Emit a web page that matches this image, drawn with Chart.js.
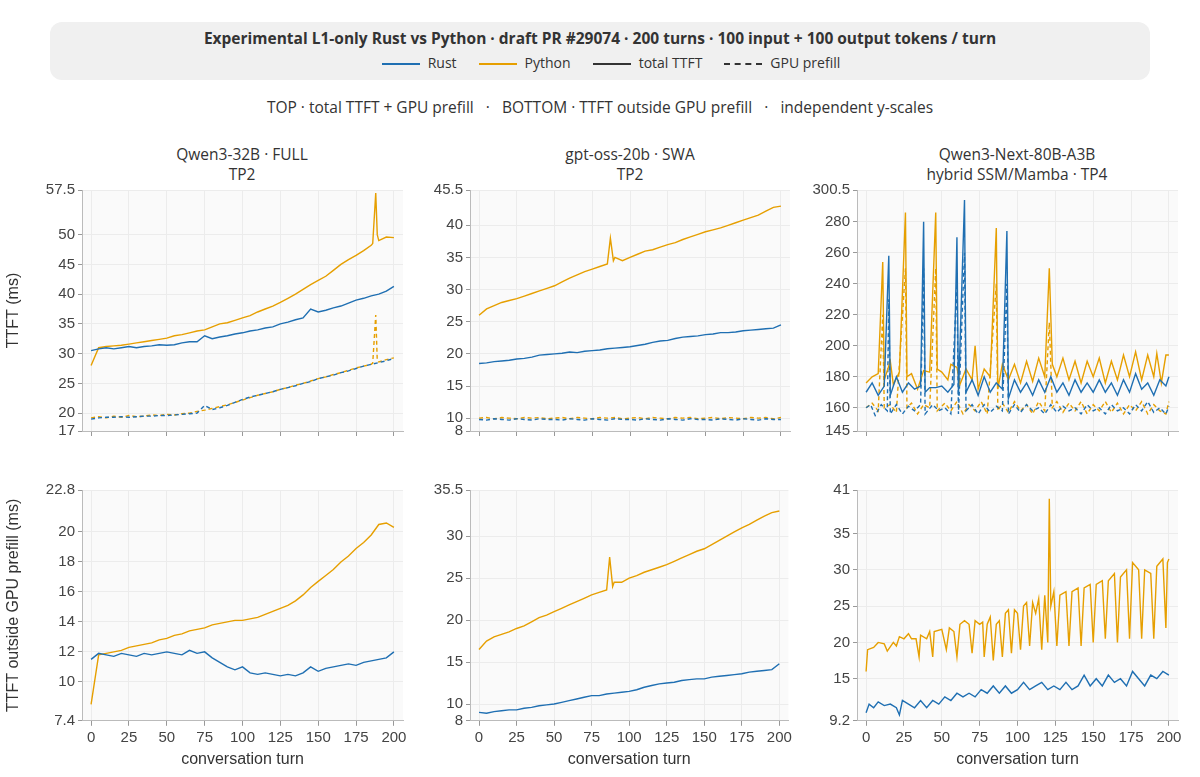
<!DOCTYPE html>
<html><head><meta charset="utf-8">
<script src="https://cdn.jsdelivr.net/npm/chart.js@4/dist/chart.umd.min.js"></script>
<style>
body{margin:0;width:1200px;height:777px;background:#fff;font-family:"Open Sans","DejaVu Sans",sans-serif;position:relative;overflow:hidden;color:#333}
#head{position:absolute;left:50px;top:22px;width:1100px;height:58px;background:#f0f0f0;border-radius:12px;text-align:center}
#head .t{font-weight:bold;font-size:15.5px;margin-top:5px}
#head .l{font-size:14px;margin-top:4px}
.sw{display:inline-block;width:38px;height:0;vertical-align:middle;margin:0 8px 0 22px}
#sub{position:absolute;top:96px;width:1200px;text-align:center;font-size:15.5px}
.pt{position:absolute;width:380px;text-align:center;font-size:15.5px;line-height:20px}
canvas{position:absolute}
</style></head><body>
<div id="head"><div class="t">Experimental L1-only Rust vs Python · draft PR #29074 · 200 turns · 100 input + 100 output tokens / turn</div>
<div class="l"><span class="sw" style="border-top:2px solid #1f6fb2"></span>Rust<span class="sw" style="border-top:2px solid #e69f00"></span>Python<span class="sw" style="border-top:2px solid #333"></span>total TTFT<span class="sw" style="border-top:2px dashed #333"></span>GPU prefill</div></div>
<div id="sub">TOP · total TTFT + GPU prefill &nbsp; · &nbsp; BOTTOM · TTFT outside GPU prefill &nbsp; · &nbsp; independent y-scales</div>
<div class="pt" style="left:52px;top:144px">Qwen3-32B · FULL<br>TP2</div>
<div class="pt" style="left:440px;top:144px">gpt-oss-20b · SWA<br>TP2</div>
<div class="pt" style="left:827px;top:144px">Qwen3-Next-80B-A3B<br>hybrid SSM/Mamba · TP4</div>
<canvas id="c1" style="left:0;top:178px" width="410" height="265"></canvas>
<canvas id="c2" style="left:410px;top:178px" width="385" height="265"></canvas>
<canvas id="c3" style="left:795px;top:178px" width="390" height="265"></canvas>
<canvas id="c4" style="left:0;top:478px" width="410" height="295"></canvas>
<canvas id="c5" style="left:410px;top:478px" width="385" height="295"></canvas>
<canvas id="c6" style="left:795px;top:478px" width="390" height="295"></canvas>
<script>
const RUST = "#1f6fb2"
const PY = "#e69f00"

const turns = [0,5,10,15,20,25,30,35,40,45,50,55,60,65,70,75,80,85,90,95,100,105,110,115,120,125,130,135,140,145,150,155,160,165,170,175,180,185,190,195,200]

// Qwen3-32B
const q32RustTotal = [30.5,30.8,31,30.8,31,31.2,31,31.2,31.3,31.5,31.4,31.5,31.8,32,32,33,32.5,32.8,33,33.3,33.5,33.8,34,34.3,34.5,35,35.3,35.7,36,37.5,37,37.3,37.7,38,38.5,39,39.3,39.7,40,40.5,41.3]
const q32PyTotal = [28,31,31.2,31.3,31.4,31.6,31.8,32,32.2,32.4,32.6,33,33.2,33.5,33.8,34,34.5,35,35.2,35.6,36,36.4,37,37.5,38,38.6,39.3,40,40.8,41.6,42.3,43,44,45,45.8,46.5,47.3,48.2,49,49.6,49.5]
const q32RustPre = [19,19.2,19.3,19.3,19.4,19.3,19.4,19.5,19.5,19.6,19.6,19.7,19.8,19.9,20,21.3,20.6,20.9,21.3,21.8,22.3,22.7,23,23.3,23.6,24,24.3,24.6,25,25.3,25.8,26.1,26.4,26.8,27.1,27.5,27.9,28.2,28.5,28.8,29.2]
const q32PyPre = [19.2,19.4,19.2,19.5,19.3,19.6,19.4,19.5,19.7,19.6,19.8,19.7,19.9,20,20.3,20.5,20.8,21.1,21.4,21.8,22.2,22.6,23,23.3,23.6,24,24.3,24.7,25,25.4,25.8,26.1,26.5,26.8,27.2,27.6,27.9,28.2,28.6,29,29.3]
const q32RustOut = [11.5,11.9,11.8,11.7,11.9,11.8,11.7,11.9,11.8,11.9,12,11.9,11.8,12.1,11.9,12,11.6,11.3,11,10.8,11,10.6,10.5,10.6,10.5,10.4,10.5,10.4,10.6,11,10.7,10.9,11,11.1,11.2,11.1,11.3,11.4,11.5,11.6,12]
const q32PyOut = [8.5,11.8,11.9,12,12.1,12.3,12.4,12.5,12.6,12.8,12.9,13.1,13.2,13.4,13.5,13.6,13.8,13.9,14,14.1,14.1,14.2,14.3,14.5,14.7,14.9,15.1,15.4,15.8,16.3,16.7,17.1,17.5,18,18.4,18.9,19.3,19.8,20.5,20.6,20.3]
// gpt-oss-20b
const gptRustTotal = [18.5,18.6,18.8,18.9,19,19.2,19.3,19.5,19.8,19.9,20,20.1,20.3,20.2,20.4,20.5,20.6,20.8,20.9,21,21.1,21.3,21.5,21.8,22,22.1,22.4,22.6,22.7,22.8,23,23.1,23.3,23.3,23.4,23.6,23.7,23.8,23.9,24,24.5]
const gptPyTotal = [26,27,27.5,28,28.3,28.6,29,29.4,29.8,30.2,30.6,31.2,31.8,32.3,32.8,33.2,33.6,34,35,34.5,35,35.5,36,36.2,36.6,37,37.3,37.8,38.2,38.6,39,39.3,39.6,40,40.4,40.8,41.2,41.6,42.2,42.8,43]
const gptRustPre = [9.8,9.7,9.9,9.8,9.7,9.9,9.8,9.7,9.9,9.8,9.8,9.7,9.9,9.8,9.7,9.9,9.8,9.7,9.9,9.8,9.8,9.7,9.9,9.8,9.7,9.9,9.8,9.7,9.9,9.8,9.8,9.7,9.9,9.8,9.7,9.9,9.8,9.7,9.9,9.8,9.8]
const gptPyPre = [10,10.1,9.9,10.1,10,9.9,10.1,10,10.1,9.9,10,10.1,9.9,10.1,10,9.9,10.1,10,10.1,9.9,10,10.1,9.9,10.1,10,9.9,10.1,10,10.1,9.9,10,10.1,9.9,10.1,10,9.9,10.1,10,10.1,9.9,10.1]
const gptRustOut = [9,8.9,9.1,9.2,9.3,9.3,9.5,9.6,9.8,9.9,10,10.2,10.4,10.6,10.8,11,11,11.2,11.3,11.4,11.5,11.7,12,12.2,12.4,12.5,12.6,12.8,12.9,13,13,13.2,13.3,13.4,13.5,13.6,13.8,13.9,14,14.1,14.8]
const gptPyOut = [16.5,17.5,18,18.3,18.6,19,19.3,19.8,20.3,20.6,21,21.4,21.8,22.2,22.6,23,23.3,23.6,24.5,24.5,25,25.3,25.7,26,26.3,26.6,27,27.4,27.8,28.2,28.5,29,29.5,30,30.5,31,31.4,31.9,32.4,32.8,33]
const gptSpikeX = [85,87,89]
const gptPyTotalSpike = [34,38,34.5]
const gptPyOutSpike = [23.6,27.5,24]

// Qwen3-Next
const nxPyTotalX = [0,4,8,11,12,16,18,22,26,27,30,34,38,42,46,47,50,54,56,60,62,66,70,72,74,78,82,86,87,90,94,98,102,106,110,114,118,121,123,126,130,134,138,142,146,150,154,158,162,166,170,174,178,182,186,190,192,195,198,200]
const nxPyTotal = [176,180,182,254,178,190,175,183,286,180,182,172,184,183,286,185,183,178,188,186,175,185,178,200,172,185,180,276,172,188,178,188,176,190,177,192,180,250,188,180,192,178,190,176,190,180,192,176,190,178,194,180,196,178,194,180,195,176,194,194]
const nxRustTotalX = [0,4,8,12,15,16,20,24,28,32,36,38,39,42,46,50,54,58,60,61,65,66,70,74,78,82,86,90,93,94,98,102,106,110,114,118,122,126,130,134,138,142,146,150,154,158,162,166,170,174,178,182,186,190,194,198,200]
const nxRustTotal = [170,176,168,174,258,168,180,170,176,172,174,280,170,173,173,174,170,175,270,168,294,170,178,168,180,170,176,172,274,166,178,170,176,168,178,170,180,170,176,168,178,170,176,170,178,170,176,168,178,170,182,172,176,168,178,174,180]
const nxRustPreX = [0,3,6,10,14,15,16,20,24,28,32,36,38,39,44,48,52,56,60,61,65,66,70,74,78,82,86,90,93,94,98,102,106,110,114,118,122,126,130,134,138,142,146,150,154,158,162,166,170,174,178,182,186,190,194,198,200]
const nxRustPre = [160,162,155,162,158,230,156,162,156,161,158,162,250,156,162,158,160,156,240,156,260,158,162,156,162,157,161,158,240,156,162,157,162,158,160,156,162,157,161,158,160,156,162,158,160,156,162,158,160,156,162,158,164,157,160,156,161]
const nxPyPreX = [0,4,8,11,12,16,20,26,27,30,34,38,42,46,47,52,56,60,64,68,72,76,80,86,87,90,94,98,102,106,110,114,118,121,123,126,130,134,138,142,146,150,154,158,162,166,170,174,178,182,186,190,194,198,200]
const nxPyPre = [160,163,158,220,160,162,157,250,160,163,156,162,160,250,158,163,158,164,156,162,158,164,156,240,158,163,157,164,158,162,156,164,158,215,160,164,157,163,158,164,156,162,158,164,157,163,156,162,158,164,156,162,158,156,164]
const nxPyOutX = [0,1,5,8,12,14,18,20,22,25,28,30,33,35,36,40,42,44,45,50,53,55,58,60,62,65,68,70,72,75,77,78,80,82,84,86,88,90,92,94,96,98,100,102,104,106,108,110,112,114,116,118,120,121,122,124,126,128,132,134,136,140,142,144,148,150,152,156,158,160,164,166,168,172,174,176,180,182,184,188,190,192,196,198,199,200]
const nxPyOut = [16,19,19.3,20,19.8,18.8,20,19.5,20.8,20.5,21.2,20.5,20.5,18,21,20.5,21.5,18,21.5,21.8,19,22,21.5,18,22.5,23,22.5,18.5,23,22.5,22.8,18,22.5,23.5,17.5,22.5,23,18,24,24.5,18.5,24.5,24,19,25,25.5,19.5,25.5,24,26,19,26.5,20,39.8,25,27,19.5,26.5,27,19.5,27,27.5,19.5,27.5,28,20,28,28.5,20.5,28.5,29.5,20,29,30,20.5,31,30,20.5,30,29.5,20.5,30.5,31.5,22,31,31.5]
const nxRustOutX = [0,2,5,8,12,16,20,22,24,28,32,36,40,44,48,52,56,60,64,68,72,76,80,84,88,92,96,100,104,108,112,116,120,124,128,132,136,140,144,148,152,156,160,164,168,172,176,180,184,188,192,196,200]
const nxRustOut = [10.3,11.5,11,11.8,11.3,11.5,11,10,12,11.5,11,12,11,12,11.5,12.5,12,13,12.5,13,12.5,13.5,13,14,13,14,13,13.5,14.5,13.5,14,14.5,13.5,14,13.5,14.5,13.5,14,15.5,14,15,14,15.5,14.5,15,14,16,15,14,15.5,15,16,15.5]

function pts(xs, ys){ return xs.map((x,i)=>({x:x,y:ys[i]})) }
function merge(xs, ys, sx, sy){
  const p = pts(xs, ys).concat(pts(sx, sy))
  return p.sort((a,b)=>a.x-b.x)
}

const bgPlugin = {
  id:"bg",
  beforeDraw(chart){
    const a = chart.chartArea, ctx = chart.ctx
    ctx.save(); ctx.fillStyle = "#fafafa"; ctx.fillRect(a.left,a.top,a.right-a.left,a.bottom-a.top); ctx.restore()
  }
}

function line(data, color, dashed){
  return {data:data, borderColor:color, borderWidth:1.4, pointRadius:0, tension:0, borderDash: dashed ? [4,3] : []}
}

function makeChart(id, datasets, yMin, yMax, yStep, axisW, bottom, yTitle, padRight){
  new Chart(document.getElementById(id), {
    type:"line",
    data:{datasets:datasets},
    plugins:[bgPlugin],
    options:{
      responsive:false, animation:false,
      layout:{padding:{right:padRight, top:6}},
      plugins:{legend:{display:false}, tooltip:{enabled:false}},
      scales:{
        x:{type:"linear", min:-6, max:206,
          afterBuildTicks(s){ s.ticks = [0,25,50,75,100,125,150,175,200].map(v=>({value:v})) },
          grid:{color:"#ececec", drawTicks:true, tickLength:5, tickColor:"#999"},
          border:{color:"#bbb"},
          ticks:{display:bottom, color:"#444", font:{size:15}, maxRotation:0},
          title:{display:bottom, text:"conversation turn", color:"#333", font:{size:16}, padding:{top:0}}
        },
        y:{min:yMin, max:yMax,
          afterFit(s){ s.width = axisW },
          grid:{color:"#ececec", tickLength:4, tickColor:"#999"},
          border:{color:"#bbb"},
          ticks:{stepSize:yStep, color:"#444", font:{size:15}},
          title:{display:!!yTitle, text:yTitle, color:"#333", font:{size:16}}
        }
      }
    }
  })
}

makeChart("c1", [
  line(pts(turns, q32RustTotal).concat([]).sort((a,b)=>a.x-b.x), RUST),
  line(merge(turns, q32PyTotal, [186,188,189], [48.5,57,50]), PY),
  line(pts(turns, q32RustPre), RUST, true),
  line(merge(turns, q32PyPre, [186,188,189], [28.4,36.5,28.8]), PY, true)
], 17, 57.5, 5, 82, false, "TTFT (ms)", 7)
makeChart("c2", [
  line(pts(turns, gptRustTotal), RUST),
  line(merge(turns, gptPyTotal, gptSpikeX, gptPyTotalSpike), PY),
  line(pts(turns, gptRustPre), RUST, true),
  line(pts(turns, gptPyPre), PY, true)
], 8, 45.5, 5, 60, false, "", 5)
makeChart("c3", [
  line(pts(nxRustTotalX, nxRustTotal), RUST),
  line(pts(nxPyTotalX, nxPyTotal), PY),
  line(pts(nxRustPreX, nxRustPre), RUST, true),
  line(pts(nxPyPreX, nxPyPre), PY, true)
], 145, 300.5, 20, 62, false, "", 7)
makeChart("c4", [
  line(pts(turns, q32RustOut), RUST),
  line(pts(turns, q32PyOut), PY)
], 7.4, 22.8, 2, 82, true, "TTFT outside GPU prefill (ms)", 7)
makeChart("c5", [
  line(pts(turns, gptRustOut), RUST),
  line(merge(turns, gptPyOut, gptSpikeX, gptPyOutSpike), PY)
], 8, 35.5, 5, 60, true, "", 5)
makeChart("c6", [
  line(pts(nxRustOutX, nxRustOut), RUST),
  line(pts(nxPyOutX, nxPyOut), PY)
], 9.2, 41, 5, 62, true, "", 7)
</script>
</body></html>
